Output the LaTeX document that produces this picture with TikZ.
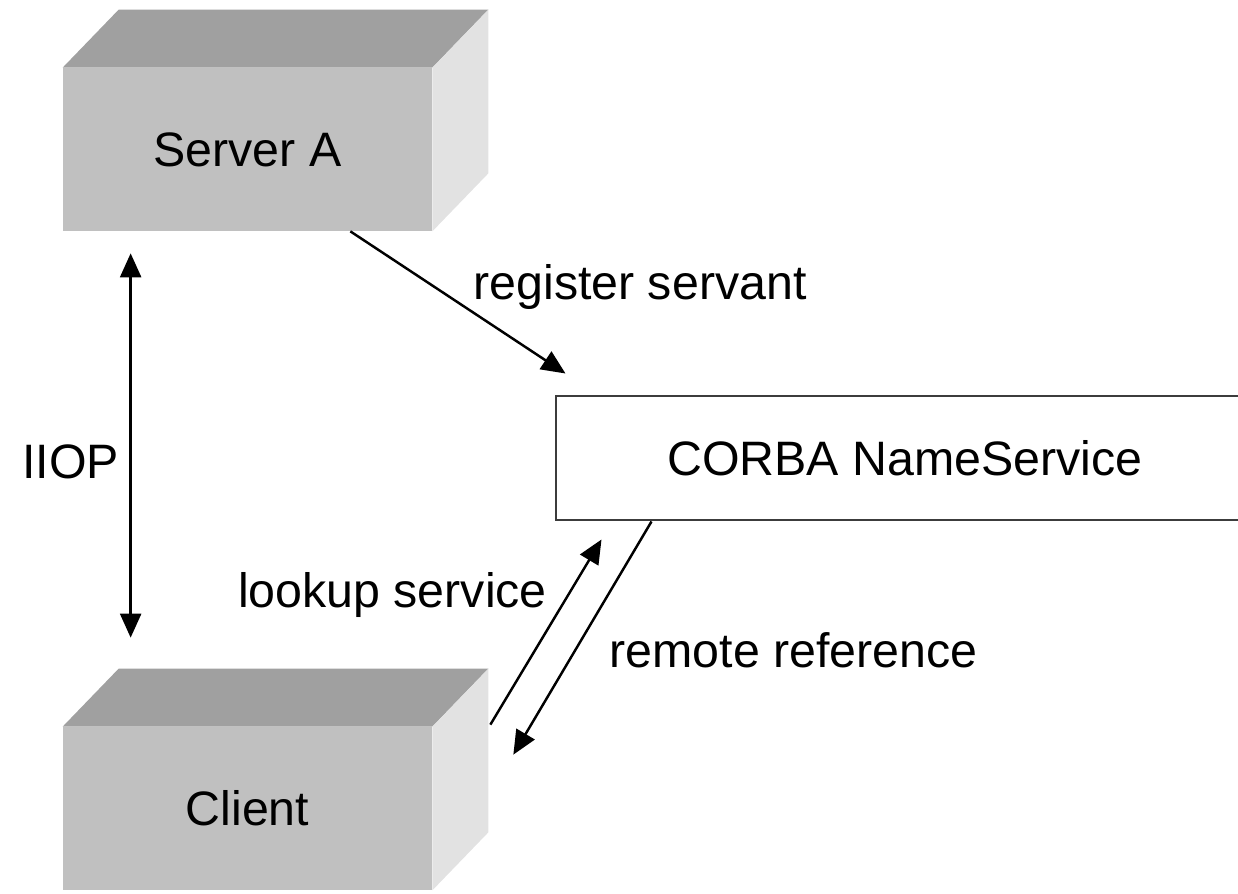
\documentclass[tikz,border=0pt]{standalone}
\usepackage{fontspec}
\setmainfont{Liberation Sans}
\usetikzlibrary{arrows.meta, positioning, calc}
\definecolor{frontgray}{RGB}{192, 192, 192}
\definecolor{topgray}{RGB}{160, 160, 160}
\definecolor{sidegray}{RGB}{226, 226, 226}
\definecolor{edgegray}{RGB}{60, 60, 60}

\begin{document}
\begin{tikzpicture}[
    face/.style={rectangle, fill=frontgray, inner sep=0pt, minimum width=7.38cm, minimum height=3.26cm, font=\fontsize{27.5}{33}\selectfont},
    svc/.style={rectangle, draw=edgegray, line width=1.7pt, fill=white, minimum width=13.96cm, minimum height=2.48cm, font=\fontsize{27.5}{33}\selectfont},
    lbl/.style={font=\fontsize{27.5}{33}\selectfont, inner sep=0pt},
    arr/.style={-{Triangle[length=0.48cm, width=0.42cm]}, line width=1.4pt},
    dbl/.style={{Triangle[length=0.48cm, width=0.42cm]}-{Triangle[length=0.48cm, width=0.42cm]}, line width=1.4pt},
]
\useasboundingbox (0,0) rectangle (24.76,17.86);

% Boxes
\node[face] (srv) at (4.95,14.87) {Server A};
\fill[topgray] (srv.north west) -- ++(1.12,1.16) -- ([shift={(1.12,1.16)}]srv.north east) -- (srv.north east) -- cycle;
\fill[sidegray] (srv.north east) -- ++(1.12,1.16) -- ([shift={(1.12,1.16)}]srv.south east) -- (srv.south east) -- cycle;

\node[face] (cli) at (4.95,1.69) {Client};
\fill[topgray] (cli.north west) -- ++(1.12,1.16) -- ([shift={(1.12,1.16)}]cli.north east) -- (cli.north east) -- cycle;
\fill[sidegray] (cli.north east) -- ++(1.12,1.16) -- ([shift={(1.12,1.16)}]cli.south east) -- (cli.south east) -- cycle;

\node[svc] (corba) at (18.1,8.70) {CORBA NameService};

% Verbindungen
\draw[arr] ([xshift=-1.64cm]srv.south east) -- ([shift={(0.22,0.42)}]corba.north west);
\draw[dbl] ([shift={(1.36,-0.44)}]srv.south west) -- ([shift={(1.36,1.78)}]cli.north west);
\draw[arr] ([shift={(1.16,0.04)}]cli.north east) -- ([shift={(0.94,-0.36)}]corba.south west);
\draw[arr] ([xshift=1.94cm]corba.south west) -- ([shift={(1.62,-0.56)}]cli.north east);

% Beschriftungen
\node[lbl] (reg) at (12.8,12.12) {register servant};
\node[lbl] (iiop) at (1.41,8.62) {IIOP};
\node[lbl] (look) at (7.85,5.96) {lookup service};
\node[lbl] (rem) at (15.87,4.86) {remote reference};

\end{tikzpicture}
\end{document}
